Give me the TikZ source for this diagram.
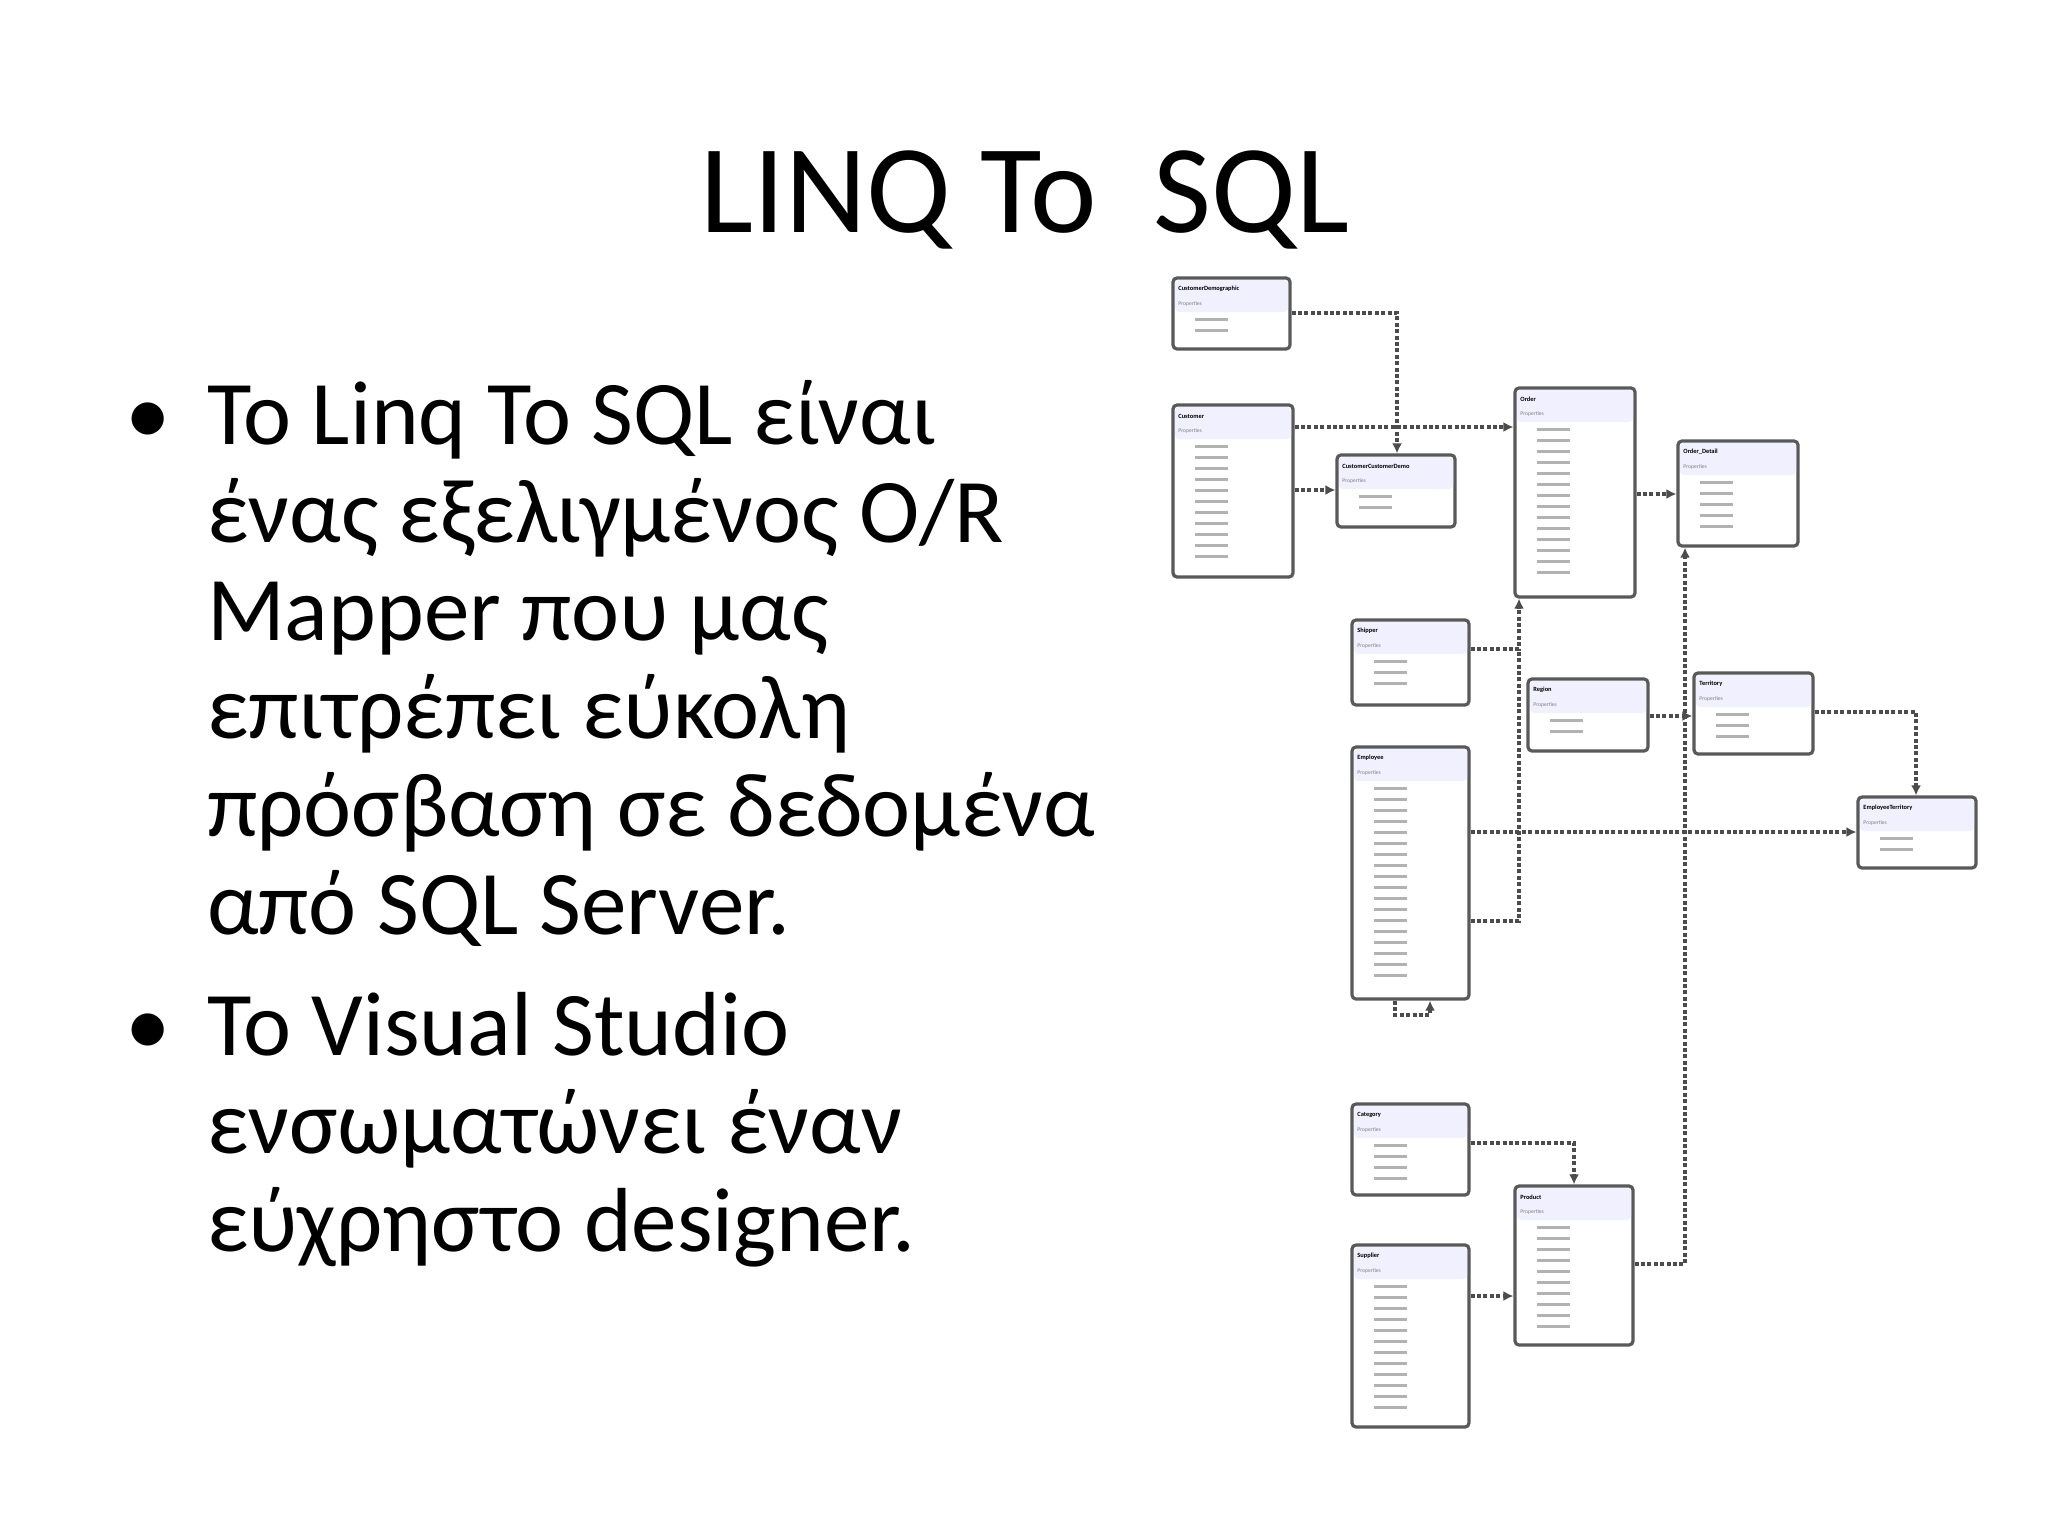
\documentclass[tikz,border=0pt]{standalone}
\usepackage{fontspec}
\setmainfont{Carlito}
\usetikzlibrary{arrows.meta}
\tikzset{
  tbl/.style={draw=gray!70!black, line width=1.6pt, rounded corners=2pt, fill=white, inner sep=0pt},
  rel/.style={draw=gray!60!black, line width=2pt, dash pattern=on 2pt off 1.2pt, -{Latex[length=5pt,width=5pt]}},
  relplain/.style={draw=gray!60!black, line width=2pt, dash pattern=on 2pt off 1.2pt},
  line/.style={anchor=base west, font=\fontsize{45.5}{49}\selectfont},
}
\newcommand{\mytbl}[7]{%
  \pgfmathsetmacro{\cw}{(#4-#2)*0.5}\pgfmathsetmacro{\ch}{(#5-#3)*0.5}%
  \node[tbl, minimum width=\cw pt, minimum height=\ch pt] (#1) at ({(#2+#4)/2},{(#3+#5)/2}) {};
  \fill[blue!6, rounded corners=2pt] (#2+2,#3+2) rectangle (#4-2,#3+34);
  \node[anchor=west, font=\fontsize{3.2}{4}\selectfont\bfseries, inner sep=0pt] (#1t) at (#2+5,#3+11) {#6};
  \node[anchor=west, font=\fontsize{2.8}{3}\selectfont, text=gray, inner sep=0pt] (#1p) at (#2+5,#3+26) {Properties};
  \foreach \r in {1,...,#7} {\draw[gray!60, line width=1.5pt] (#2+22,#3+30+\r*11) -- (#2+55,#3+30+\r*11);}
}
\begin{document}
\begin{tikzpicture}[x=0.5pt,y=-0.5pt]
\useasboundingbox (0,0) rectangle (2048,1536);
\fill[white] (0,0) rectangle (2048,1536);
\node[font=\fontsize{63}{70}\selectfont, anchor=base] (title) at (1025,232) {LINQ To\ \ SQL};
\node[line] (b1) at (118,444) {•};
\node[line] (l1) at (200,444) {Το Linq To SQL είναι};
\node[line] (l2) at (200,542) {ένας εξελιγμένος O/R};
\node[line] (l3) at (200,640) {Mapper που μας};
\node[line] (l4) at (200,738) {επιτρέπει εύκολη};
\node[line] (l5) at (200,836) {πρόσβαση σε δεδομένα};
\node[line] (l6) at (200,934) {από SQL Server.};
\node[line] (b2) at (118,1055) {•};
\node[line] (l7) at (200,1055) {To Visual Studio};
\node[line] (l8) at (200,1153) {ενσωματώνει έναν};
\node[line] (l9) at (200,1251) {εύχρηστο designer.};
% tables
\mytbl{cd}{1173}{278}{1290}{349}{CustomerDemographic}{2}
\mytbl{cu}{1173}{405}{1293}{577}{Customer}{11}
\mytbl{ccd}{1337}{455}{1455}{527}{CustomerCustomerDemo}{2}
\mytbl{od}{1515}{388}{1635}{597}{Order}{14}
\mytbl{odt}{1678}{441}{1798}{546}{Order\_Detail}{5}
\mytbl{sh}{1352}{620}{1469}{705}{Shipper}{3}
\mytbl{em}{1352}{747}{1469}{999}{Employee}{18}
\mytbl{rg}{1528}{679}{1648}{751}{Region}{2}
\mytbl{te}{1694}{673}{1813}{754}{Territory}{3}
\mytbl{et}{1858}{797}{1976}{868}{EmployeeTerritory}{2}
\mytbl{ca}{1352}{1104}{1469}{1195}{Category}{4}
\mytbl{pr}{1515}{1186}{1633}{1345}{Product}{10}
\mytbl{su}{1352}{1245}{1469}{1427}{Supplier}{12}
% connectors
\draw[rel] (cd.east |- 0,313) -| (ccd.north -| 1397,0);
\draw[rel] (cu.east |- 0,427) -- (od.west |- 0,427);
\draw[rel] (cu.east |- 0,490) -- (ccd.west |- 0,490);
\draw[rel] (od.east |- 0,494) -- (odt.west |- 0,494);
\draw[rel] (sh.east |- 0,649) -| (od.south -| 1519,0);
\draw[relplain] (em.east |- 0,921) -| (1519,649);
\draw[rel] (em.east |- 0,832) -- (et.west |- 0,832);
\draw[rel] (rg.east |- 0,716) -- (te.west |- 0,716);
\draw[rel] (te.east |- 0,712) -| (et.north -| 1916,0);
\draw[rel] (pr.east |- 0,1264) -| (odt.south -| 1685,0);
\draw[rel] (ca.east |- 0,1143) -| (pr.north -| 1574,0);
\draw[rel] (su.east |- 0,1296) -- (pr.west |- 0,1296);
\draw[rel] (em.south -| 1395,0) |- (1430,1015) -- (em.south -| 1430,0);
\end{tikzpicture}
\end{document}
